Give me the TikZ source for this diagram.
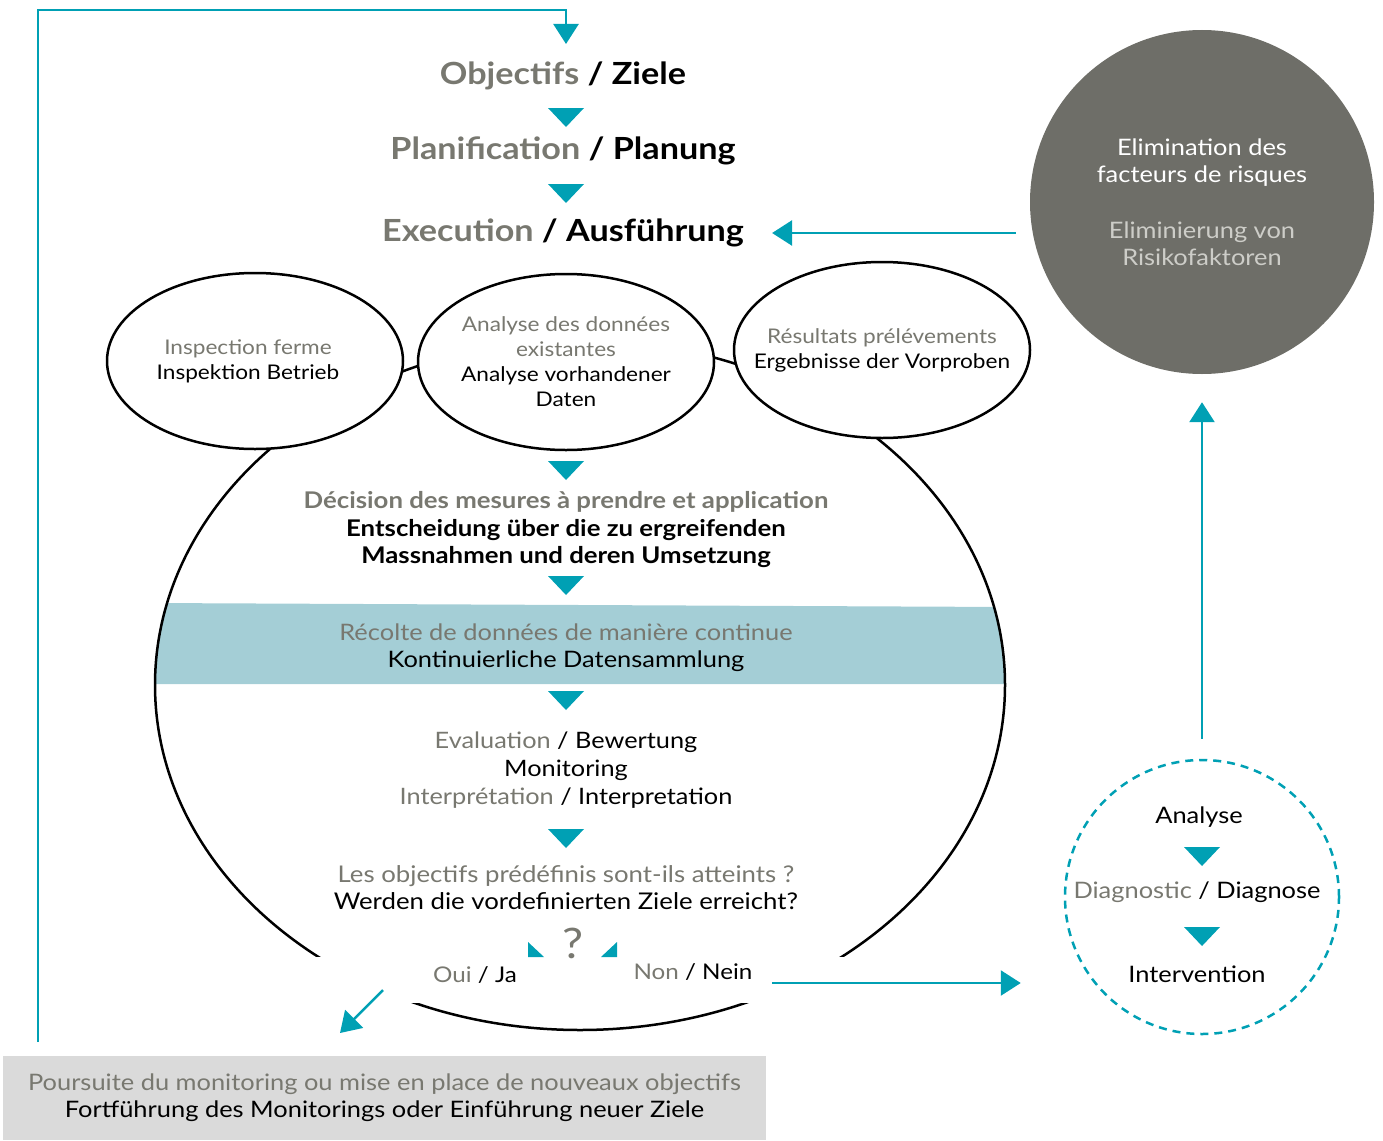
\documentclass[tikz,border=0pt]{standalone}
\usepackage{fontspec}
\setmainfont{Lato}[FakeStretch=1.12]
\usetikzlibrary{positioning}
\usetikzlibrary{shapes.geometric, arrows.meta}

\definecolor{petrol}{RGB}{0,160,180}
\definecolor{txtgrey}{RGB}{120,120,112}
\definecolor{darkgrey}{RGB}{110,110,104}
\definecolor{lightgrey}{RGB}{205,205,200}
\definecolor{bandblue}{RGB}{164,206,214}
\definecolor{boxgrey}{RGB}{218,218,218}

\newcommand{\fr}[1]{\textcolor{txtgrey}{#1}}

\tikzset{
  arr/.style={line width=2.5pt, petrol, -{Triangle[length=20pt,width=25pt]}},
  head/.style={font=\fontsize{30.5}{36}\selectfont\bfseries},
  body/.style={font=\fontsize{22.7}{27}\selectfont},
  bold/.style={font=\fontsize{23}{27.5}\selectfont\bfseries},
  bub/.style={ellipse, draw, line width=2.5pt, fill=white, minimum width=296pt, minimum height=176pt,
    inner xsep=-30pt, inner ysep=0pt, font=\fontsize{20.2}{25}\selectfont},
  tri/.style={fill=petrol}
}

\begin{document}
\begin{tikzpicture}[x=1pt, y=-1pt, every node/.style={inner sep=0pt, align=center}]
  \useasboundingbox (0,0) rectangle (1383,1140);

  % cycle with the data band
  \begin{scope}
    \clip (580,685) ellipse [x radius=425, y radius=345];
    \fill[bandblue] (150,603) -- (1010,607) -- (1010,684) -- (150,684) -- cycle;
  \end{scope}
  \draw[line width=2.5pt] (580,685) ellipse [x radius=425, y radius=345];
  \fill[white] (300,957) rectangle (860,1003); % gap for the answers

  % sources
  \node[bub] (insp) at (255,361) {\fr{Inspection ferme}\hspace*{14pt}\\Inspektion Betrieb\hspace*{14pt}};
  \node[bub] (anal) at (566,362) {\fr{Analyse des données}\\\fr{existantes}\\Analyse vorhandener\\Daten};
  \node[bub] (res) at (882,350) {\fr{Résultats prélévements}\\Ergebnisse der Vorproben};

  % main steps
  \node[head] (obj) at (563,76) {\fr{Objectifs} / Ziele};
  \node[head] (plan) at (563,151) {\fr{Planification} / Planung};
  \node[head] (exec) at (563,233) {\fr{Execution} / Ausführung};
  \node[bold] (dec) at (566,530) {\fr{Décision des mesures à prendre et application}\\Entscheidung über die zu ergreifenden\\Massnahmen und deren Umsetzung};
  \node[body] (coll) at (566,648) {\fr{Récolte de données de manière continue}\\Kontinuierliche Datensammlung};
  \node[body, font=\fontsize{22.6}{28}\selectfont] (eval) at (566,770) {\fr{Evaluation} / Bewertung\\Monitoring\\\fr{Interprétation} / Interpretation};
  \node[body, font=\fontsize{23}{27}\selectfont] (quest) at (566,888) {\fr{Les objectifs prédéfinis sont-ils atteints ?}\\Werden die vordefinierten Ziele erreicht?};
  \node[font=\fontsize{42}{42}\selectfont, txtgrey] (q) at (573,943) {?};
  \node[body, font=\fontsize{21.6}{26}\selectfont] (oui) at (475,975) {\fr{Oui} / Ja};
  \node[body, font=\fontsize{21.6}{26}\selectfont] (non) at (693,972) {\fr{Non} / Nein};
  \node[body, fill=boxgrey, minimum width=763pt, minimum height=84pt] (next) at (384.5,1098)
    {\fr{Poursuite du monitoring ou mise en place de nouveaux objectifs}\\Fortführung des Monitorings oder Einführung neuer Ziele};

  % risk factors
  \node[circle, fill=darkgrey, minimum size=344pt, font=\fontsize{22.7}{27}\selectfont, text=white] (elim) at (1202,202)
    {Elimination des\\facteurs de risques\\[29pt]\textcolor{lightgrey}{Eliminierung von}\\\textcolor{lightgrey}{Risikofaktoren}};
  \node[circle, draw=petrol, line width=2.5pt, dash pattern=on 8pt off 6pt, minimum size=274pt] (diag) at (1202,897) {};
  \node[body] (ana) at (1199,817) {Analyse};
  \node[body] (dia) at (1197,892) {\fr{Diagnostic} / Diagnose};
  \node[body] (inter) at (1197,974) {Intervention};

  % triangles
  \foreach \y in {108,184,461,576,691,829}
    \fill[tri] (548,\y) -- (584,\y) -- (566,\y+19) -- cycle;
  \foreach \y in {847,927}
    \fill[tri] (1184,\y) -- (1220,\y) -- (1202,\y+19) -- cycle;
  \fill[tri] (528,942) -- (528,957) -- (544,957) -- cycle;
  \fill[tri] (617,942) -- (617,957) -- (601,957) -- cycle;

  % arrows
  \draw[arr] (38,1042) |- (566,10) -- (566,44); % back to the objectives
  \draw[arr] (elim.west |- exec) ++(-14,0) -- ([xshift=28pt]exec.east);
  \draw[arr] ([yshift=20pt]diag.north) -- ([yshift=-28pt]elim.south);
  \coordinate (nonend) at (772,983);
  \draw[arr, shorten >=43pt] (nonend) -- (diag.west |- nonend);
  \draw[arr] (383,990) -- (340,1033);

\end{tikzpicture}
\end{document}
